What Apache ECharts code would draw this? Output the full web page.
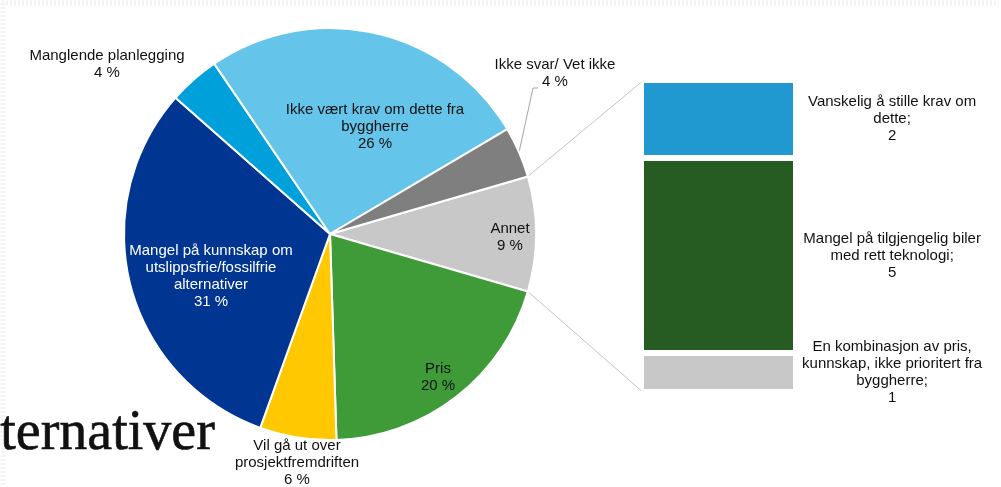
<!DOCTYPE html>
<html>
<head>
<meta charset="utf-8">
<script src="https://cdn.jsdelivr.net/npm/echarts@6/dist/echarts.min.js"></script>
<style>
  html, body { margin: 0; padding: 0; background: #ffffff; }
  #chart { width: 1001px; height: 487px; }
</style>
</head>
<body>
<div id="chart"></div>
<script>
// Pie slices, clockwise starting with "Annet" (the slice broken out into the bar)
const pieNames = [
  'Annet',
  'Pris',
  'Vil gå ut over\nprosjektfremdriften',
  'Mangel på kunnskap om\nutslippsfrie/fossilfrie\nalternativer',
  'Manglende planlegging',
  'Ikke vært krav om dette fra\nbyggherre',
  'Ikke svar/ Vet ikke'
];
const pieValues = [9, 20, 6, 31, 4, 26, 4];

// Breakdown of "Annet", stacked bottom to top
const barNames = [
  'En kombinasjon av pris,\nkunnskap, ikke prioritert fra\nbyggherre',
  'Mangel på tilgjengelig biler\nmed rett teknologi',
  'Vanskelig å stille krav om\ndette'
];
const barValues = [1, 5, 2];

const pieColors = ['#c8c8c8', '#3f9b37', '#ffc800', '#003591', '#00a0da', '#64c4e9', '#7f7f7f'];
const barColors = ['#c8c8c8', '#265c22', '#1f99cf'];
const pieTextColors = ['#111111', '#111111', '#111111', '#ffffff', '#111111', '#111111', '#111111'];

// Layout
const PIE_CX = 330, PIE_CY = 234, PIE_R = 206;
const GRID = { left: 641, top: 80, width: 155, height: 312 };
// Label anchor points (centre of each text block)
const pieLabelPos = [
  [510, 237], [438, 377], [297, 463], [211, 276], [107, 64], [375, 127], [555, 73]
];
const ikkeSvarElbow = [[533, 88], [538, 88]];

const FONT = '"Liberation Sans", Arial, sans-serif';
const total = barValues.reduce((a, b) => a + b, 0);
const pieTotal = pieValues.reduce((a, b) => a + b, 0);
const annetHalf = pieValues[0] / pieTotal * 180; // half-angle of the broken-out slice

const chart = echarts.init(document.getElementById('chart'), null, { renderer: 'canvas' });

const option = {
  backgroundColor: '#ffffff',
  animation: false,
  grid: { left: GRID.left, top: GRID.top, width: GRID.width, height: GRID.height },
  xAxis: { type: 'category', data: ['Annet'], show: false },
  yAxis: { type: 'value', min: 0, max: total, show: false },
  series: [
    {
      type: 'pie',
      center: [PIE_CX, PIE_CY],
      radius: [0, PIE_R],
      startAngle: annetHalf,
      clockwise: true,
      avoidLabelOverlap: false,
      itemStyle: { borderColor: '#ffffff', borderWidth: 2 },
      label: {
        show: true,
        position: 'inside',
        fontFamily: FONT,
        fontSize: 15,
        lineHeight: 17,
        align: 'center',
        formatter: p => p.name + '\n' + p.value + ' %'
      },
      labelLine: { show: false },
      labelLayout: p => ({
        x: pieLabelPos[p.dataIndex][0],
        y: pieLabelPos[p.dataIndex][1],
        align: 'center',
        verticalAlign: 'middle'
      }),
      data: pieNames.map((n, i) => ({
        name: n,
        value: pieValues[i],
        itemStyle: { color: pieColors[i] },
        label: { color: pieTextColors[i] }
      }))
    },
    ...barNames.map((n, i) => ({
      type: 'bar',
      name: n,
      stack: 'annet',
      barWidth: '100%',
      itemStyle: { color: barColors[i], borderColor: '#ffffff', borderWidth: 3 },
      label: {
        show: true,
        position: ['162%', '50%'],
        align: 'center',
        verticalAlign: 'middle',
        fontFamily: FONT,
        fontSize: 15,
        lineHeight: 17,
        color: '#111111',
        formatter: p => n + ';\n' + p.value
      },
      data: [barValues[i]]
    }))
  ]
};

chart.setOption(option);

// Connector lines between the "Annet" slice and the bar, plus the leader for "Ikke svar"
const yTop = chart.convertToPixel({ yAxisIndex: 0 }, total) + 1.5;
const yBot = chart.convertToPixel({ yAxisIndex: 0 }, 0) - 1.5;
const rad = a => a * Math.PI / 180;
const arcPt = a => [PIE_CX + PIE_R * Math.cos(rad(a)), PIE_CY - PIE_R * Math.sin(rad(a))];
const ikkeSvarStart = pieValues.slice(0, 6).reduce((a, b) => a + b, 0);
const ikkeSvarMid = annetHalf - (ikkeSvarStart + pieValues[6] / 2) / pieTotal * 360;

chart.setOption({
  graphic: [
    {
      type: 'polyline', silent: true,
      shape: { points: [[2, 3], [999, 3]] },
      style: { stroke: '#f2f2f2', lineWidth: 5, lineDash: [2, 2], fill: null }
    },
    {
      type: 'polyline', silent: true,
      shape: { points: [[3, 3], [3, 485]] },
      style: { stroke: '#f4f4f4', lineWidth: 5, lineDash: [2, 2], fill: null }
    },
    {
      type: 'line', silent: true,
      shape: { x1: arcPt(annetHalf)[0], y1: arcPt(annetHalf)[1], x2: GRID.left + 1, y2: yTop },
      style: { stroke: '#c4c4c4', lineWidth: 1 }
    },
    {
      type: 'line', silent: true,
      shape: { x1: arcPt(-annetHalf)[0], y1: arcPt(-annetHalf)[1], x2: GRID.left, y2: yBot },
      style: { stroke: '#c4c4c4', lineWidth: 1 }
    },
    {
      type: 'polyline', silent: true,
      shape: { points: [arcPt(ikkeSvarMid + 360)].concat(ikkeSvarElbow) },
      style: { stroke: '#a6a6a6', lineWidth: 1, fill: null }
    },
    {
      type: 'text', silent: true,
      left: 0, top: 406,
      style: {
        text: 'ternativer',
        font: '56px "Liberation Serif", "DejaVu Serif", serif',
        fill: '#111111',
        stroke: '#111111',
        lineWidth: 0.6
      }
    }
  ]
});
</script>
</body>
</html>
